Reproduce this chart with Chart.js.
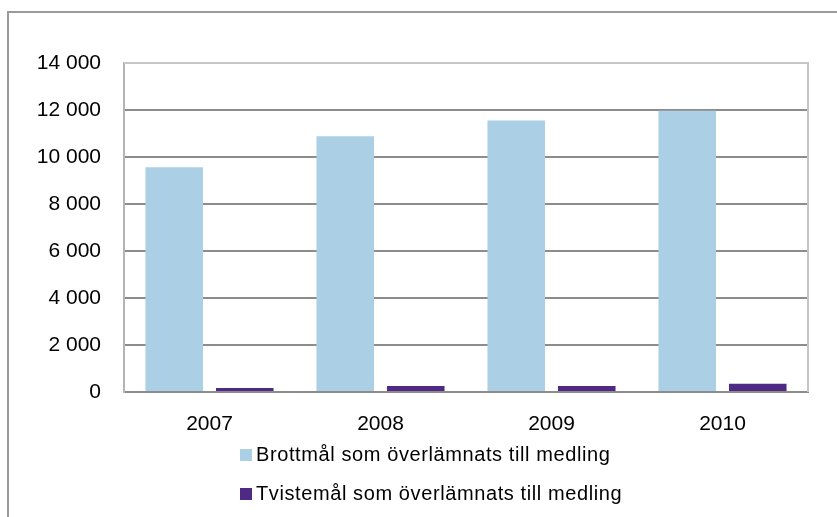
<!DOCTYPE html>
<html>
<head>
<meta charset="utf-8">
<script src="https://cdn.jsdelivr.net/npm/chart.js@4.4.0/dist/chart.umd.min.js"></script>
<style>
  body { margin: 0; background: #fff; }
  #wrap { position: relative; width: 837px; height: 517px; overflow: hidden; }
  #frame { position: absolute; left: 7px; top: 11px; width: 900px; height: 600px; border: 2px solid #9a9a9a; box-sizing: border-box; }
  canvas { position: absolute; left: 0; top: 0; }
</style>
</head>
<body>
<div id="wrap">
  <div id="frame"></div>
  <canvas id="myChart" width="837" height="517"></canvas>
</div>
<script>
const years = ['2007', '2008', '2009', '2010'];
const brottmal = [9560, 10880, 11550, 11970];
const tvistemal = [170, 260, 260, 350];
const seriesNames = ['Brottmål som överlämnats till medling', 'Tvistemål som överlämnats till medling'];
const seriesColors = ['#abcfe5', '#4f2a84'];

const fontFamily = 'Arial, "Liberation Sans", sans-serif';

// plot area frame (light grey) behind the bars
const plotFrame = {
    id: 'plotFrame',
    beforeDatasetsDraw(chart) {
        const a = chart.chartArea;
        const ctx = chart.ctx;
        ctx.save();
        ctx.strokeStyle = '#c6c6c6';
        ctx.lineWidth = 2;
        ctx.beginPath();
        ctx.moveTo(a.left, a.top);
        ctx.lineTo(a.right, a.top);
        ctx.lineTo(a.right, a.bottom);
        ctx.stroke();
        ctx.restore();
    }
};

// legend stacked under the axis
const stackedLegend = {
    id: 'stackedLegend',
    afterDraw(chart) {
        const ctx = chart.ctx;
        ctx.save();
        ctx.font = '20px ' + fontFamily;
        ctx.letterSpacing = '0.6px';
        ctx.textBaseline = 'middle';
        chart.data.datasets.forEach((ds, i) => {
            const y = 455 + i * 39;
            ctx.fillStyle = ds.backgroundColor;
            ctx.fillRect(240, y - 6, 12, 12);
            ctx.fillStyle = '#000';
            ctx.fillText(ds.label, 256, y);
        });
        ctx.restore();
    }
};

const ctx = document.getElementById('myChart').getContext('2d');
const chart = new Chart(ctx, {
    type: 'bar',
    data: {
        labels: years,
        datasets: [
            { label: seriesNames[0], data: brottmal, backgroundColor: seriesColors[0] },
            { label: seriesNames[1], data: tvistemal, backgroundColor: seriesColors[1] }
        ]
    },
    options: {
        responsive: false,
        animation: false,
        layout: { padding: { left: 0, top: 63, right: 29, bottom: 0 } },
        datasets: {
            bar: { categoryPercentage: 0.825, barPercentage: 0.816 }
        },
        plugins: {
            legend: { display: false },
            tooltip: { enabled: false }
        },
        scales: {
            x: {
                grid: { display: false, drawTicks: false },
                border: { color: '#8c8c8c', width: 2 },
                ticks: { color: '#000', padding: 20, font: { family: fontFamily, size: 21 } },
                afterFit(scale) { scale.height = 125; }
            },
            y: {
                min: 0,
                max: 14000,
                ticks: {
                    stepSize: 2000,
                    color: '#000',
                    padding: 23,
                    font: { family: fontFamily, size: 21 },
                    callback: v => String(v).replace(/\B(?=(\d{3})+(?!\d))/g, ' ')
                },
                grid: {
                    drawTicks: false,
                    lineWidth: 2,
                    color: c => (c.tick && c.tick.value === 14000) ? '#c6c6c6' : '#8c8c8c'
                },
                border: { color: '#b4b4b4', width: 2 },
                afterFit(scale) { scale.width = 124; }
            }
        }
    },
    plugins: [plotFrame, stackedLegend]
});
</script>
</body>
</html>
